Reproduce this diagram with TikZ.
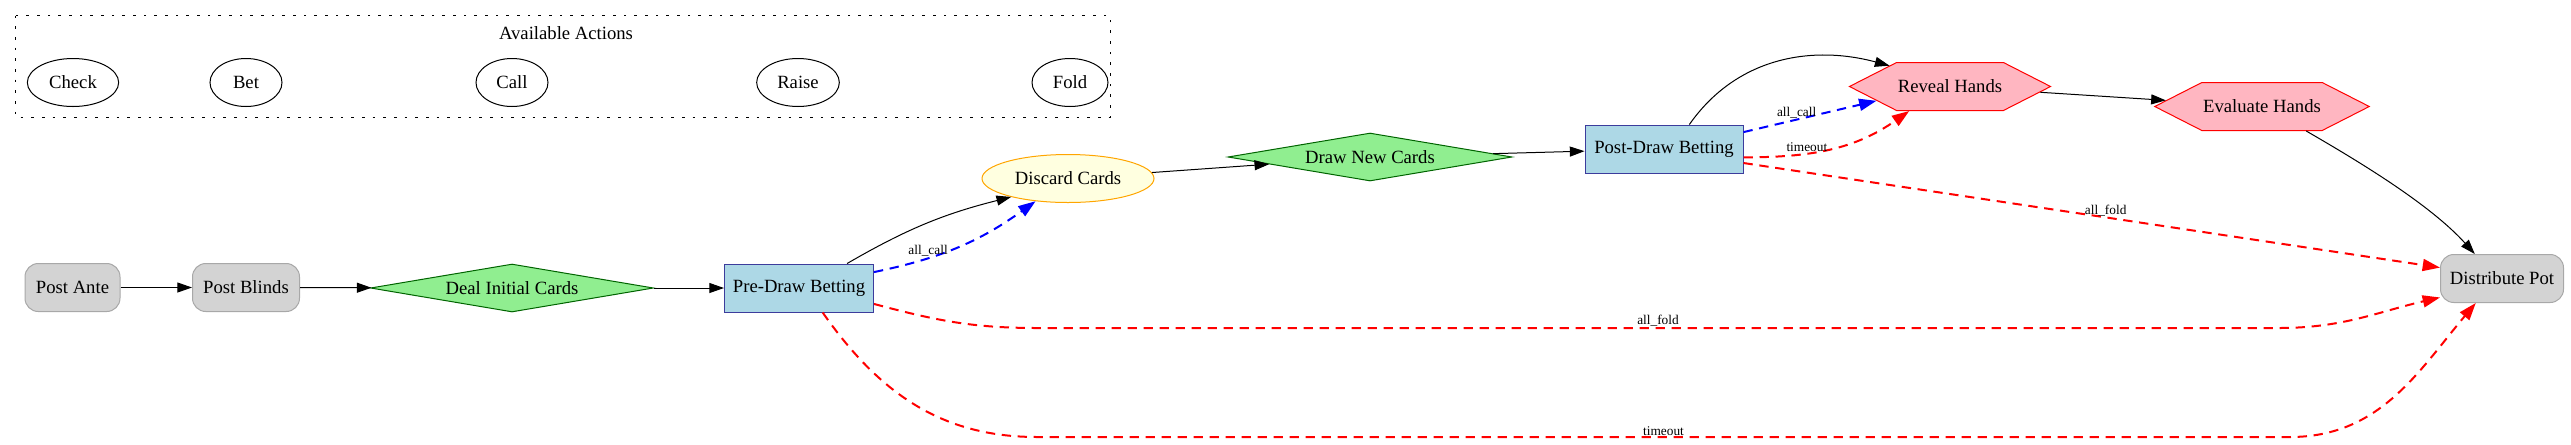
\documentclass[tikz,border=0pt]{standalone}
\usepackage{fontspec}
\setmainfont{Liberation Serif}
\newfontfamily\graphfont{Liberation Serif}
\usepackage{tikz}
\usetikzlibrary{
	shapes.geometric,
	shapes.symbols,
	arrows.meta
}
\definecolor{boxgray}{HTML}{D3D3D3}
\definecolor{linegray}{HTML}{A8A8A8}
\definecolor{dealgreen}{HTML}{90EE90}
\definecolor{darkgreen}{HTML}{006400}
\definecolor{betblue}{HTML}{ADD8E6}
\definecolor{betnavy}{HTML}{3C3C9C}
\definecolor{discardyellow}{HTML}{FFFFE0}
\definecolor{discardorange}{HTML}{FFA500}
\definecolor{revealpink}{HTML}{FFB6C1}
\tikzset{
	x=0.75pt,
	y=-0.75pt,
	stage/.style={
		font=\graphfont\fontsize{14pt}{16pt}\selectfont,
		inner sep=1pt,
		minimum height=36pt,
		line width=0.75pt
	},
	action/.style={stage,ellipse,draw=black},
	forced/.style={stage,rectangle,rounded corners=10pt,draw=linegray,fill=boxgray},
	dealing/.style={stage,diamond,aspect=6,draw=darkgreen,fill=dealgreen},
	betting/.style={stage,rectangle,draw=betnavy,fill=betblue},
	discarding/.style={stage,ellipse,draw=discardorange,fill=discardyellow},
	showdown/.style={stage,signal,signal to=east and west,signal pointer angle=54,draw=red,fill=revealpink},
	cluster/.style={line width=0.75pt,dash pattern=on 2pt off 6pt},
	flow/.style={
		-{Triangle[length=11pt,width=7.5pt]},
		line width=0.75pt
	},
	call/.style={
		-{Triangle[length=13pt,width=9pt]},
		line width=1.5pt,
		dash pattern=on 7pt off 5pt,
		blue
	},
	stop/.style={
		-{Triangle[length=13pt,width=9pt]},
		line width=1.5pt,
		dash pattern=on 7pt off 5pt,
		red
	},
	cond/.style={font=\graphfont\fontsize{10pt}{12pt}\selectfont,inner sep=0.5pt,black}
}

\begin{document}
\begin{tikzpicture}
	\useasboundingbox (0,0) rectangle (2571,444);

	% available actions
	\draw[cluster] (15.5,15.5) rectangle (1110,117);
	\node[font=\graphfont\fontsize{14pt}{16pt}\selectfont] (actions) at (566,33) {Available Actions};
	\draw
		node[action,minimum width=68.5pt] (check) at (73,82.5)   {Check}
		node[action,minimum width=54pt]   (bet)   at (246,82.5)  {Bet}
		node[action,minimum width=54pt]   (call)  at (512,82.5)  {Call}
		node[action,minimum width=62pt]   (raise) at (798,82.5)  {Raise}
		node[action,minimum width=57pt]   (fold)  at (1070,82.5) {Fold}
	;

	% hand
	\draw
		node[forced,minimum width=71.25pt]    (ante)     at (72.5,287.5) {Post Ante}
		node[forced,minimum width=80.25pt]    (blinds)   at (246,287.5)  {Post Blinds}
		node[dealing,minimum width=212.25pt]  (deal)     at (512,288)    {Deal Initial Cards}
		node[betting,minimum width=111.75pt]  (predraw)  at (799,288)    {Pre-Draw Betting}
		node[discarding,minimum width=129pt]  (discard)  at (1068,178.5) {Discard Cards}
		node[dealing,minimum width=213pt]     (drawnew)  at (1370,157)   {Draw New Cards}
		node[betting,minimum width=118.5pt]   (postdraw) at (1664,149)   {Post-Draw Betting}
		node[showdown,minimum width=142.5pt]  (reveal)   at (1950,86.5)  {Reveal Hands}
		node[showdown,minimum width=156.75pt] (evaluate) at (2262,106.5) {Evaluate Hands}
		node[forced,minimum width=92.25pt]    (pot)      at (2502,278.5) {Distribute Pot}

		(ante)          edge[flow] (blinds)
		(blinds)        edge[flow] (deal)
		(deal)          edge[flow] (predraw)
		(predraw.27)    edge[flow,bend left=8] (discard.198)
		(discard)       edge[flow] (drawnew)
		(drawnew)       edge[flow] (postdraw)
		(postdraw.44)   edge[flow,out=55,in=165] (reveal.161)
		(reveal)        edge[flow] (evaluate)
		(evaluate.-29)  edge[flow,out=-30,in=132,looseness=0.8] (pot.138)

		(predraw.12)    edge[call,bend right=12] node[cond,pos=0.3,above] {all\_call} (discard.215)
		(postdraw.12)   edge[call]               node[cond,pos=0.4,above]  {all\_call} (reveal.191)
		(postdraw.-6)   edge[stop,out=0,in=215]  node[cond,pos=0.35,above] {timeout} (reveal.211)
		(postdraw.-10)  edge[stop]               node[cond,pos=0.52,above] {all\_fold} (pot.170)
	;

	% long ways to the pot
	\coordinate (foldlow1) at (1037,328);
	\coordinate (foldlow2) at (2279,328);
	\coordinate (timelow1) at (1037,437);
	\coordinate (timelow2) at (2290,437);
	\draw[stop] (predraw.-12) to[out=-15,in=180] (foldlow1)
		-- node[cond,above] {all\_fold} (foldlow2) to[out=0,in=193] (pot.197);
	\draw[stop] (predraw.-46) to[out=-55,in=180] (timelow1)
		-- node[cond,above] {timeout} (timelow2) to[out=0,in=-130] (pot.223);
\end{tikzpicture}
\end{document}
